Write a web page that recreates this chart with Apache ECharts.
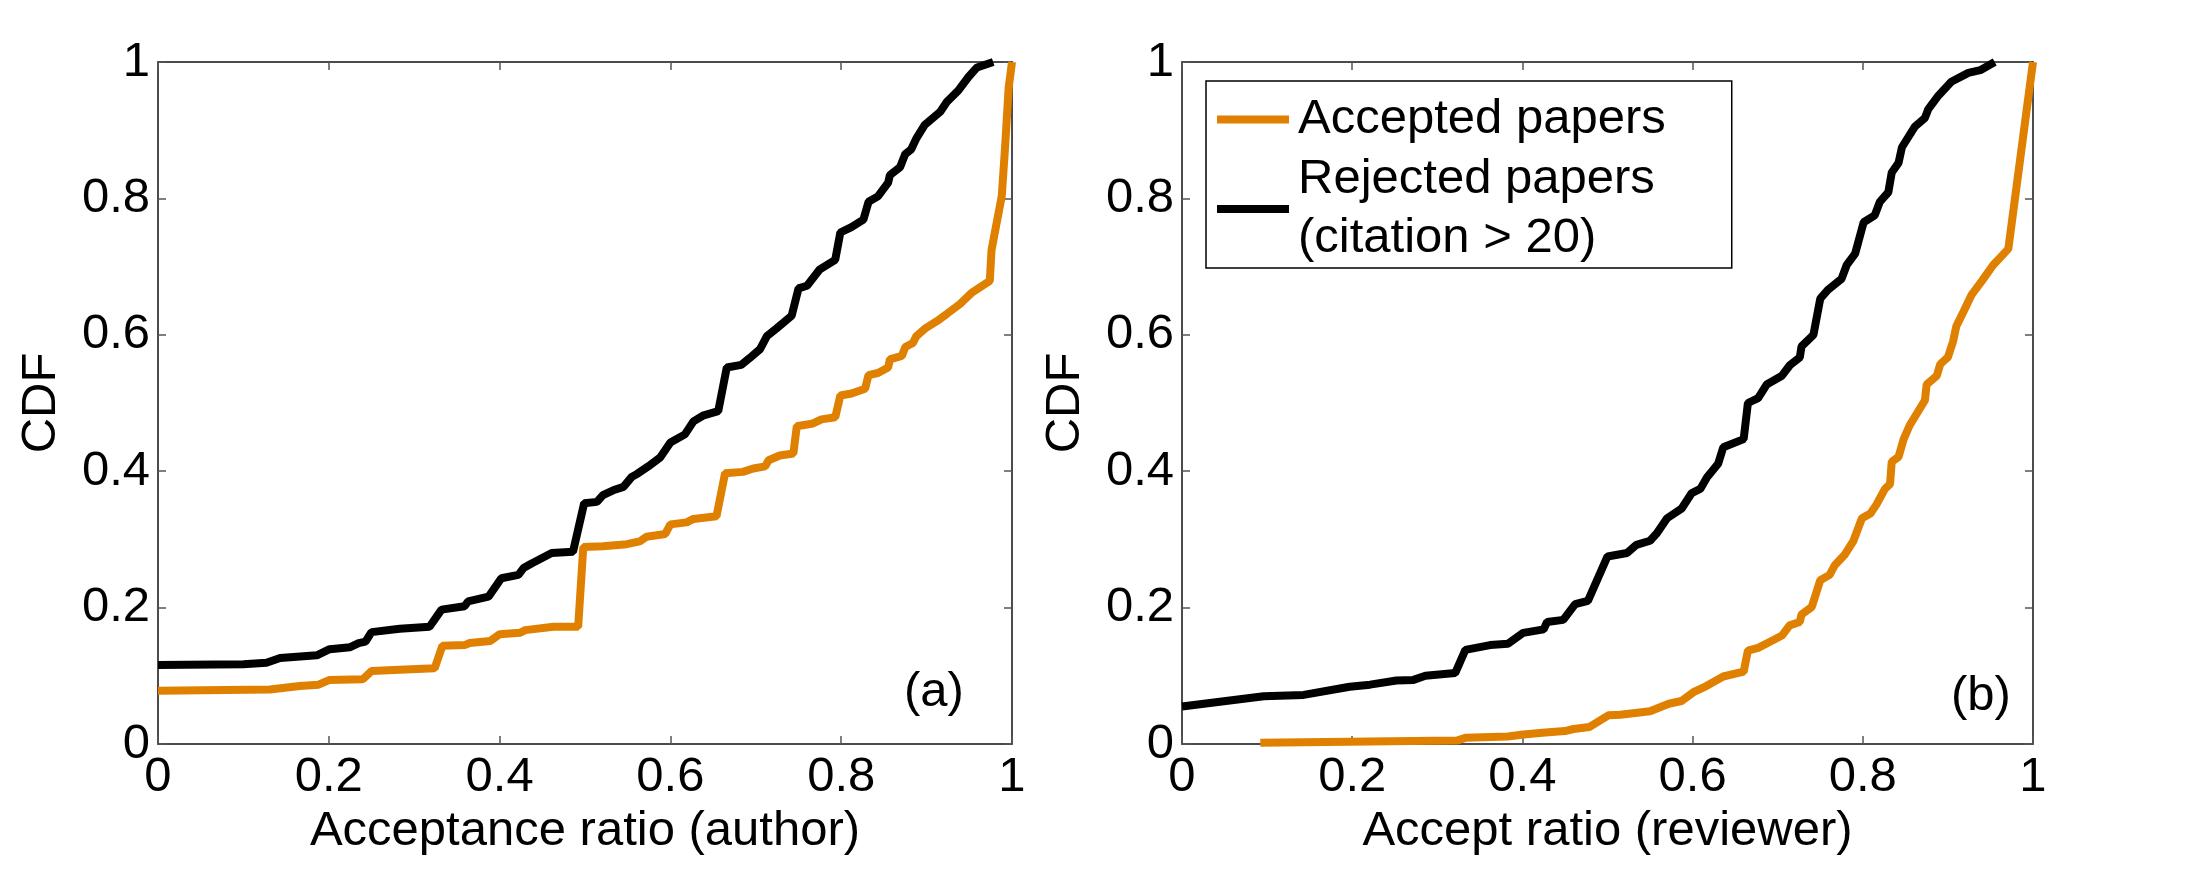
<!DOCTYPE html>
<html>
<head>
<meta charset="utf-8">
<script src="https://cdn.jsdelivr.net/npm/echarts@6/dist/echarts.min.js"></script>
<style>
  html, body { margin: 0; padding: 0; background: #fff; }
  #chart { width: 2194px; height: 894px; }
</style>
</head>
<body>
<div id="chart"></div>
<script>
// (a) acceptance ratio of the author
var authorRejX = [0, 0.10, 0.127, 0.143, 0.186, 0.201, 0.225, 0.235, 0.243, 0.250, 0.283, 0.318, 0.332, 0.359, 0.363, 0.387, 0.402, 0.422, 0.428, 0.438, 0.461, 0.486, 0.499, 0.514, 0.521, 0.533, 0.545, 0.555, 0.561, 0.574, 0.588, 0.600, 0.617, 0.627, 0.639, 0.656, 0.666, 0.683, 0.693, 0.705, 0.713, 0.724, 0.742, 0.750, 0.760, 0.775, 0.793, 0.799, 0.812, 0.826, 0.832, 0.843, 0.855, 0.857, 0.869, 0.875, 0.882, 0.888, 0.898, 0.916, 0.924, 0.937, 0.949, 0.959, 0.978];
var authorRejY = [0.116, 0.117, 0.119, 0.126, 0.130, 0.139, 0.142, 0.148, 0.150, 0.164, 0.169, 0.172, 0.197, 0.202, 0.209, 0.216, 0.243, 0.248, 0.258, 0.265, 0.280, 0.282, 0.353, 0.355, 0.365, 0.372, 0.377, 0.392, 0.396, 0.407, 0.420, 0.442, 0.454, 0.473, 0.482, 0.488, 0.552, 0.556, 0.566, 0.579, 0.598, 0.609, 0.628, 0.668, 0.672, 0.696, 0.710, 0.750, 0.758, 0.769, 0.795, 0.803, 0.823, 0.834, 0.846, 0.865, 0.872, 0.888, 0.908, 0.927, 0.942, 0.958, 0.978, 0.992, 1.0];
var authorAccX = [0, 0.131, 0.166, 0.188, 0.201, 0.240, 0.250, 0.283, 0.324, 0.333, 0.359, 0.365, 0.389, 0.400, 0.424, 0.430, 0.463, 0.492, 0.498, 0.521, 0.549, 0.564, 0.572, 0.594, 0.600, 0.619, 0.627, 0.654, 0.664, 0.685, 0.697, 0.711, 0.715, 0.728, 0.744, 0.748, 0.767, 0.777, 0.793, 0.799, 0.812, 0.828, 0.832, 0.843, 0.855, 0.857, 0.871, 0.875, 0.884, 0.888, 0.898, 0.912, 0.924, 0.939, 0.953, 0.974, 0.976, 0.982, 0.988, 0.992, 0.996, 1.0];
var authorAccY = [0.078, 0.080, 0.085, 0.087, 0.094, 0.095, 0.107, 0.109, 0.111, 0.144, 0.145, 0.148, 0.151, 0.161, 0.163, 0.167, 0.172, 0.172, 0.289, 0.290, 0.293, 0.297, 0.304, 0.308, 0.322, 0.325, 0.330, 0.334, 0.397, 0.399, 0.404, 0.407, 0.416, 0.423, 0.426, 0.466, 0.470, 0.476, 0.479, 0.511, 0.514, 0.521, 0.541, 0.544, 0.552, 0.564, 0.569, 0.582, 0.588, 0.598, 0.609, 0.620, 0.631, 0.645, 0.662, 0.679, 0.724, 0.764, 0.803, 0.877, 0.961, 1.0];

// (b) accept ratio of the reviewers
var reviewRejX = [0, 0.096, 0.143, 0.197, 0.221, 0.252, 0.272, 0.286, 0.321, 0.333, 0.362, 0.383, 0.401, 0.425, 0.429, 0.448, 0.462, 0.477, 0.500, 0.523, 0.534, 0.550, 0.558, 0.570, 0.587, 0.599, 0.609, 0.617, 0.630, 0.636, 0.660, 0.665, 0.677, 0.687, 0.705, 0.714, 0.726, 0.728, 0.742, 0.750, 0.759, 0.775, 0.781, 0.791, 0.801, 0.814, 0.820, 0.830, 0.834, 0.842, 0.846, 0.861, 0.873, 0.877, 0.889, 0.904, 0.924, 0.938, 0.955];
var reviewRejY = [0.055, 0.070, 0.072, 0.084, 0.087, 0.093, 0.094, 0.100, 0.104, 0.138, 0.145, 0.147, 0.163, 0.168, 0.179, 0.182, 0.205, 0.210, 0.275, 0.280, 0.292, 0.298, 0.309, 0.331, 0.345, 0.368, 0.374, 0.391, 0.411, 0.435, 0.447, 0.500, 0.507, 0.527, 0.540, 0.555, 0.567, 0.583, 0.600, 0.653, 0.666, 0.682, 0.702, 0.719, 0.765, 0.775, 0.795, 0.809, 0.838, 0.852, 0.875, 0.905, 0.918, 0.931, 0.951, 0.971, 0.984, 0.988, 1.0];
var reviewAccX = [0.092, 0.323, 0.333, 0.383, 0.401, 0.427, 0.450, 0.460, 0.479, 0.501, 0.515, 0.550, 0.572, 0.587, 0.601, 0.613, 0.636, 0.660, 0.665, 0.677, 0.691, 0.705, 0.714, 0.726, 0.728, 0.740, 0.750, 0.761, 0.767, 0.779, 0.789, 0.799, 0.809, 0.816, 0.826, 0.832, 0.834, 0.842, 0.848, 0.855, 0.873, 0.875, 0.887, 0.891, 0.900, 0.906, 0.910, 0.918, 0.928, 0.940, 0.953, 0.971, 1.0];
var reviewAccY = [0.002, 0.005, 0.009, 0.011, 0.014, 0.017, 0.019, 0.022, 0.025, 0.042, 0.043, 0.048, 0.059, 0.063, 0.076, 0.083, 0.099, 0.106, 0.137, 0.141, 0.150, 0.159, 0.174, 0.179, 0.190, 0.201, 0.240, 0.248, 0.262, 0.278, 0.298, 0.331, 0.338, 0.351, 0.374, 0.381, 0.414, 0.421, 0.447, 0.467, 0.504, 0.527, 0.540, 0.557, 0.567, 0.590, 0.613, 0.633, 0.659, 0.679, 0.702, 0.726, 1.0];

var seriesNames = ['Accepted papers', 'Rejected papers\n(citation > 20)'];
var xTitles = ['Acceptance ratio (author)', 'Accept ratio (reviewer)'];
var panelTags = ['(a)', '(b)'];

var FONT = '"Liberation Sans", Arial, Helvetica, sans-serif';
var ORANGE = '#e08000';

function pairs(xs, ys) {
    var out = [];
    for (var i = 0; i < xs.length; i++) out.push([xs[i], ys[i]]);
    return out;
}

function xAx(grid, pos, title) {
    return {
        type: 'value', gridIndex: grid, position: pos, min: 0, max: 1, interval: 0.2,
        name: title || '', nameLocation: 'middle', nameGap: 58,
        nameTextStyle: { fontSize: 49, color: '#000', fontFamily: FONT },
        axisLine: { onZero: false, lineStyle: { color: '#111', width: 1.5 } },
        axisTick: { inside: true, length: 8, lineStyle: { color: '#555', width: 1.5 } },
        axisLabel: { show: !!title, fontSize: 49, color: '#000', fontFamily: FONT, margin: 9 },
        splitLine: { show: false }
    };
}
function yAx(grid, pos, title) {
    return {
        type: 'value', gridIndex: grid, position: pos, min: 0, max: 1, interval: 0.2,
        name: title || '', nameLocation: 'middle', nameGap: 92,
        nameTextStyle: { fontSize: 49, color: '#000', fontFamily: FONT },
        axisLine: { onZero: false, lineStyle: { color: '#111', width: 1.5 } },
        axisTick: { inside: true, length: 8, lineStyle: { color: '#555', width: 1.5 } },
        axisLabel: { show: !!title, fontSize: 49, color: '#000', fontFamily: FONT, margin: 8 },
        splitLine: { show: false }
    };
}
function line(name, xi, yi, data, color) {
    return {
        name: name, type: 'line', xAxisIndex: xi, yAxisIndex: yi,
        data: data, showSymbol: false, symbol: 'none', smooth: false,
        lineStyle: { color: color, width: 8 }, itemStyle: { color: color }
    };
}

var chart = echarts.init(document.getElementById('chart'));
chart.setOption({
    backgroundColor: '#fff',
    animation: false,
    textStyle: { fontFamily: FONT },
    grid: [
        { left: 158, top: 62, width: 854, height: 682 },
        { left: 1182, top: 62, width: 851, height: 682 }
    ],
    xAxis: [xAx(0, 'bottom', xTitles[0]), xAx(0, 'top'), xAx(1, 'bottom', xTitles[1]), xAx(1, 'top')],
    yAxis: [yAx(0, 'left', 'CDF'), yAx(0, 'right'), yAx(1, 'left', 'CDF'), yAx(1, 'right')],
    legend: {
        data: seriesNames, orient: 'vertical', left: 1206, top: 81,
        padding: [9, 66, 0, 11], itemGap: 1, itemWidth: 72, itemHeight: 8, icon: 'rect',
        borderColor: '#000', borderWidth: 1.5, backgroundColor: '#fff',
        textStyle: { fontSize: 49, lineHeight: 59, color: '#000', fontFamily: FONT, padding: [0, 0, 0, 4] }
    },
    graphic: [
        { type: 'text', left: 904, top: 668, style: { text: panelTags[0], font: '49px ' + FONT, fill: '#000' } },
        { type: 'text', left: 1951, top: 672, style: { text: panelTags[1], font: '49px ' + FONT, fill: '#000' } }
    ],
    series: [
        line(seriesNames[0], 0, 0, pairs(authorAccX, authorAccY), ORANGE),
        line(seriesNames[1], 0, 0, pairs(authorRejX, authorRejY), '#000'),
        line(seriesNames[0], 2, 2, pairs(reviewAccX, reviewAccY), ORANGE),
        line(seriesNames[1], 2, 2, pairs(reviewRejX, reviewRejY), '#000')
    ]
});
</script>
</body>
</html>
